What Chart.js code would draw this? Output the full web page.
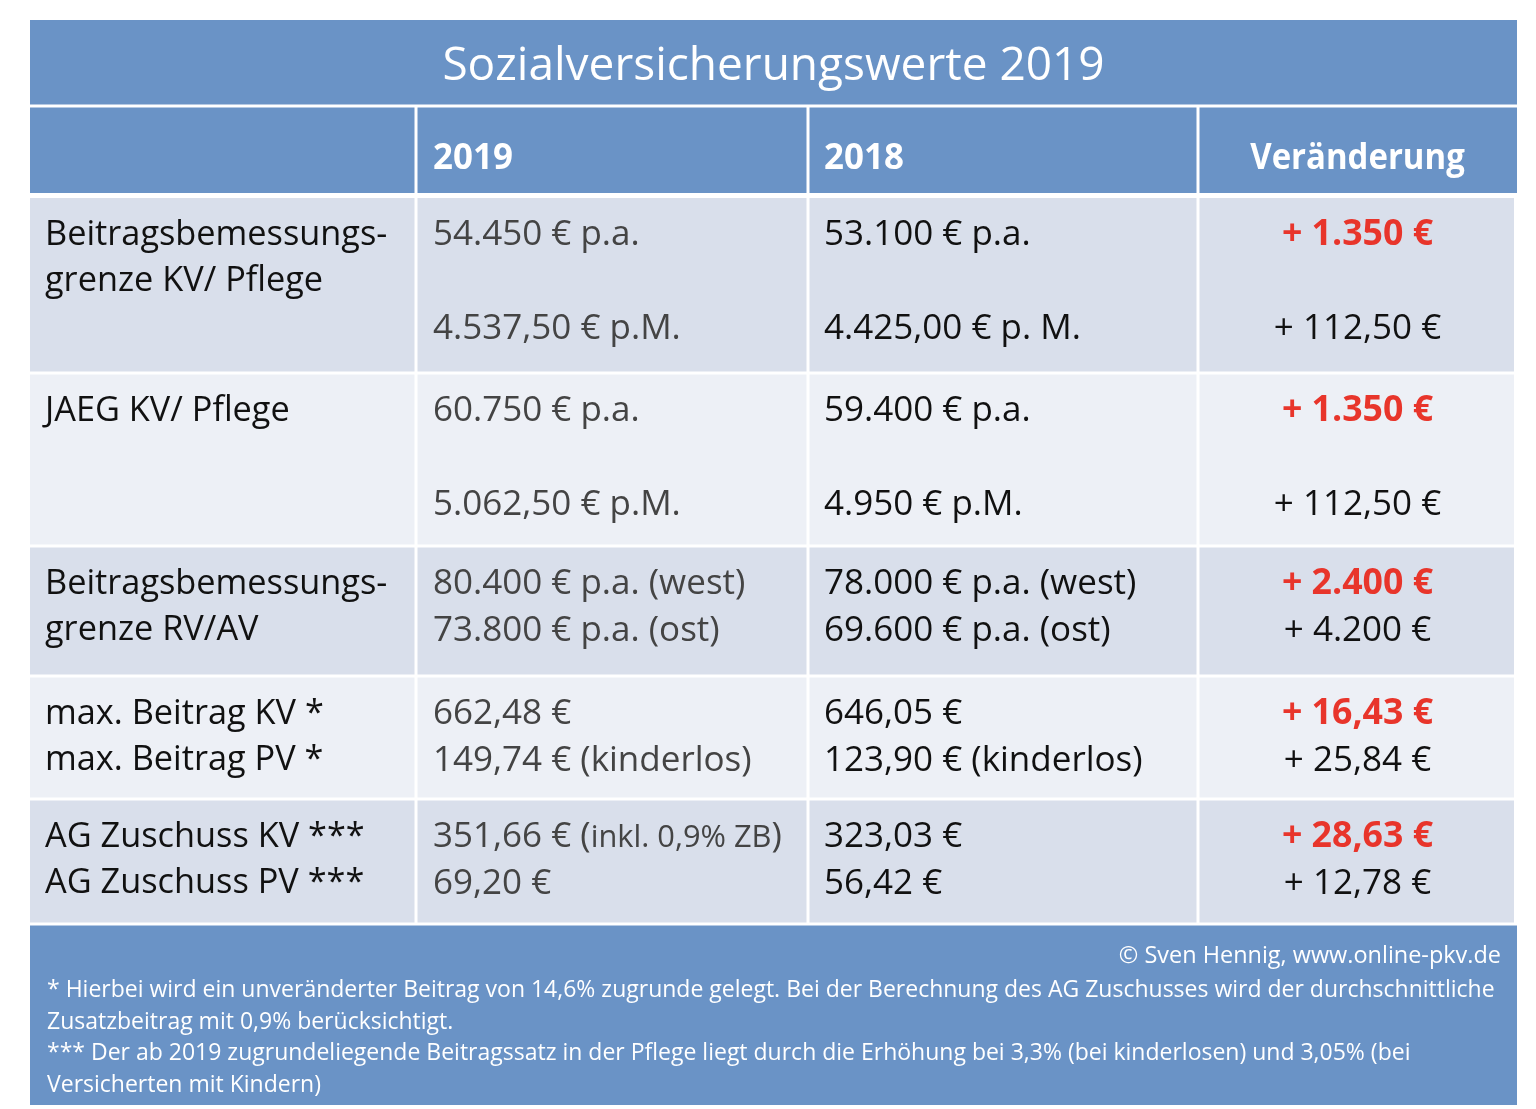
<!DOCTYPE html>
<html lang="de">
<head>
<meta charset="utf-8">
<title>Sozialversicherungswerte 2019</title>
<script src="https://cdn.jsdelivr.net/npm/chart.js@4/dist/chart.umd.min.js"></script>
<style>
  html, body { margin: 0; padding: 0; background: #fff; }
  .chart-container { position: relative; width: 1536px; height: 1109px; }
</style>
</head>
<body>
<div class="chart-container"><canvas id="svTable"></canvas></div>
<script>
  // table content
  const title = "Sozialversicherungswerte 2019";
  const columnHeads = ["", "2019", "2018", "Veränderung"];
  const rowLabels = [
    ["Beitragsbemessungs-", "grenze KV/ Pflege"],
    ["JAEG KV/ Pflege"],
    ["Beitragsbemessungs-", "grenze RV/AV"],
    ["max. Beitrag KV *", "max. Beitrag PV *"],
    ["AG Zuschuss KV ***", "AG Zuschuss PV ***"],
  ];
  // {...} = smaller type
  const values2019 = [
    ["54.450 € p.a.", "", "4.537,50 € p.M."],
    ["60.750 € p.a.", "", "5.062,50 € p.M."],
    ["80.400 € p.a. (west)", "73.800 € p.a. (ost)"],
    ["662,48 €", "149,74 € (kinderlos)"],
    ["351,66 € ({inkl. 0,9% ZB})", "69,20 €"],
  ];
  const values2018 = [
    ["53.100 € p.a.", "", "4.425,00 € p. M."],
    ["59.400 € p.a.", "", "4.950 € p.M."],
    ["78.000 € p.a. (west)", "69.600 € p.a. (ost)"],
    ["646,05 €", "123,90 € (kinderlos)"],
    ["323,03 €", "56,42 €"],
  ];
  const changes = [
    ["+ 1.350 €", "", "+ 112,50 €"],
    ["+ 1.350 €", "", "+ 112,50 €"],
    ["+ 2.400 €", "+ 4.200 €"],
    ["+ 16,43 €", "+ 25,84 €"],
    ["+ 28,63 €", "+ 12,78 €"],
  ];
  const credit = "© Sven Hennig, www.online-pkv.de";
  const footnotes = [
    "* Hierbei wird ein unveränderter Beitrag von 14,6% zugrunde gelegt. Bei der Berechnung des AG Zuschusses wird der durchschnittliche",
    "Zusatzbeitrag mit 0,9% berücksichtigt.",
    "*** Der ab 2019 zugrundeliegende Beitragssatz in der Pflege liegt durch die Erhöhung bei 3,3% (bei kinderlosen) und 3,05% (bei",
    "Versicherten mit Kindern)",
  ];

  // grid (in scale units)
  const colEdges = [30, 416, 808, 1198, 1517];
  const titleBand = [20, 106];
  const headBand = [106, 197];
  const rowEdges = [197, 373, 546, 676, 799, 924];
  const footBand = [924, 1105];

  const BLUE = "#6a93c6";
  const ROW_DARK = "#d9dfeb";
  const ROW_LIGHT = "#edf0f6";
  const RED = "#e8352b";
  const FONT = "'Open Sans'";
  const BODY = 35;
  const LINE = 47;

  function drawText(ctx, str, x, y, o) {
    const parts = str.split(/(\{[^}]*\})/).filter(Boolean).map((p) => {
      const small = p.startsWith("{");
      return { t: small ? p.slice(1, -1) : p, size: small ? o.size * 0.88 : o.size };
    });
    const sx = o.sx || 1;
    let w = 0;
    parts.forEach((p) => {
      ctx.font = (o.weight || "normal") + " " + p.size + "px " + FONT;
      p.w = ctx.measureText(p.t).width;
      w += p.w;
    });
    let start = x;
    if (o.align === "center") start = x - (w * sx) / 2;
    if (o.align === "right") start = x - w * sx;
    ctx.save();
    ctx.translate(start, y);
    ctx.scale(sx, 1);
    ctx.fillStyle = o.color;
    ctx.textBaseline = "alphabetic";
    ctx.textAlign = "left";
    let off = 0;
    parts.forEach((p) => {
      ctx.font = (o.weight || "normal") + " " + p.size + "px " + FONT;
      ctx.fillText(p.t, off, 0);
      off += p.w;
    });
    ctx.restore();
  }

  const tableDrawer = {
    id: "tableDrawer",
    afterDraw(chart) {
      const ctx = chart.ctx;
      const xs = chart.scales.x;
      const ys = chart.scales.y;
      const px = (v) => xs.getPixelForValue(v);
      const py = (v) => ys.getPixelForValue(v);
      const rect = (x0, y0, x1, y1, c) => {
        ctx.fillStyle = c;
        ctx.fillRect(px(x0), py(y0), px(x1) - px(x0), py(y1) - py(y0));
      };
      const L = colEdges[0], R = colEdges[colEdges.length - 1];
      const bottom = rowEdges[rowEdges.length - 1];

      // bands
      rect(L, titleBand[0], R, titleBand[1], BLUE);
      rect(L, headBand[0], R, headBand[1], BLUE);
      for (let i = 0; i < rowLabels.length; i++) {
        rect(L, rowEdges[i], R, rowEdges[i + 1], i % 2 === 0 ? ROW_DARK : ROW_LIGHT);
      }
      rect(L, footBand[0], R, footBand[1], BLUE);

      // white rules
      ctx.fillStyle = "#fff";
      ctx.fillRect(px(L), py(titleBand[1]) - 1.5, px(R) - px(L), 3);
      ctx.fillRect(px(L), py(headBand[1]) - 4, px(R) - px(L), 5);
      for (let i = 1; i < rowEdges.length; i++) {
        ctx.fillRect(px(L), py(rowEdges[i]) - 1.5, px(R) - px(L), 3);
      }
      for (let c = 1; c < colEdges.length - 1; c++) {
        ctx.fillRect(px(colEdges[c]) - 1.5, py(headBand[0]), 3, py(bottom) - py(headBand[0]));
      }
      ctx.fillRect(px(R) - 3, py(headBand[1]), 3, py(bottom) - py(headBand[1]));

      // title
      drawText(ctx, title, (px(L) + px(R)) / 2, py(titleBand[0]) + 60, { size: 46, color: "#fff", align: "center" });

      // column heads
      const headY = py(headBand[0]) + 63;
      const head = { size: 36, weight: "bold", color: "#fff", sx: 0.97 };
      drawText(ctx, columnHeads[1], px(colEdges[1]) + 17, headY, head);
      drawText(ctx, columnHeads[2], px(colEdges[2]) + 16, headY, head);
      drawText(ctx, columnHeads[3], (px(colEdges[3]) + px(R)) / 2, headY, { ...head, align: "center", sx: 0.915 });

      // body rows
      for (let i = 0; i < rowLabels.length; i++) {
        const base = py(rowEdges[i]) + 48;
        rowLabels[i].forEach((s, k) => drawText(ctx, s, px(colEdges[0]) + 15, base + k * 46, { size: BODY, color: "#111", sx: 0.98 }));
        values2019[i].forEach((s, k) => drawText(ctx, s, px(colEdges[1]) + 17, base + k * LINE, { size: BODY, color: "#444" }));
        values2018[i].forEach((s, k) => drawText(ctx, s, px(colEdges[2]) + 16, base + k * LINE, { size: BODY, color: "#111" }));
        changes[i].forEach((s, k) => drawText(ctx, s, (px(colEdges[3]) + px(R)) / 2, base + k * LINE,
          k === 0 ? { size: BODY, weight: "bold", color: RED, align: "center", sx: 1.02 } : { size: BODY, color: "#111", align: "center" }));
      }

      // footer
      drawText(ctx, credit, px(1501), py(footBand[0]) + 39, { size: 23, color: "#fff", align: "right", sx: 1.02 });
      footnotes.forEach((s, k) => drawText(ctx, s, px(47), py(footBand[0]) + 73 + k * 31.7, { size: 23, color: "#fff" }));
    },
  };

  new Chart(document.getElementById("svTable").getContext("2d"), {
    type: "scatter",
    data: { datasets: [{ data: [] }] },
    options: {
      responsive: true,
      maintainAspectRatio: false,
      animation: false,
      layout: { padding: 0 },
      plugins: { legend: { display: false }, tooltip: { enabled: false } },
      scales: {
        x: { type: "linear", min: 0, max: 1536, display: false },
        y: { type: "linear", min: 0, max: 1109, reverse: true, display: false },
      },
    },
    plugins: [tableDrawer],
  });
</script>
</body>
</html>
